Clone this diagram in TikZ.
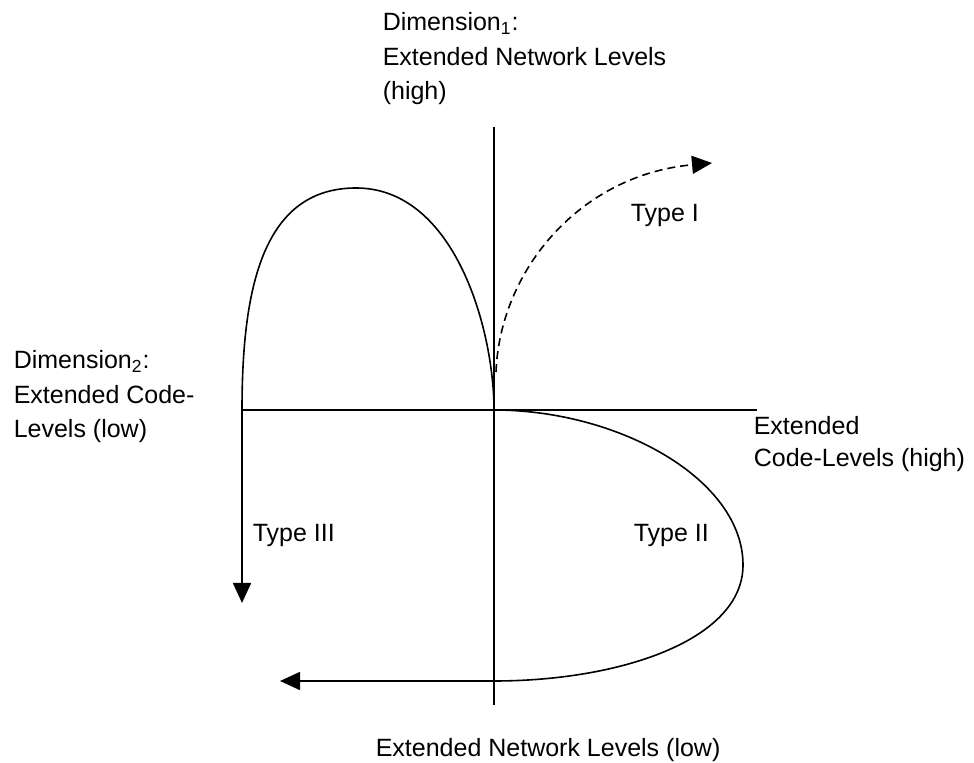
\documentclass[tikz,border=0pt]{standalone}
\usepackage{fontspec}
\setmainfont{Liberation Sans}
\usetikzlibrary{arrows.meta}
\begin{document}
\begin{tikzpicture}[x=0.5pt,y=-0.5pt,line width=0.8pt,
    lbl/.style={anchor=base west,inner sep=0,align=left,font=\fontsize{12.5}{17.25}\selectfont},
    arr/.style={-{Triangle[length=10pt,width=9pt]}},
    axis/.style={line width=0.7pt},
    dashline/.style={dash pattern=on 4pt off 2.5pt}]
  \useasboundingbox (0,0) rectangle (974,763);
  \coordinate (O) at (494,410);
  \coordinate (ntop) at (494,127);
  \coordinate (nbot) at (494,705);
  \coordinate (cleft) at (241,410);
  \coordinate (cright) at (757,410);
  \coordinate (peak) at (356,188);
  \coordinate (lside) at (242,410);
  \coordinate (t3) at (242,603);
  \coordinate (s1) at (496,372);
  \coordinate (t1) at (712,163);
  \coordinate (rside) at (743,565);
  \coordinate (back) at (494,681);
  \coordinate (t2) at (280,681);

  % multi-line labels sit on their last line
  \node[lbl] (dim1) at (382,100) {Dimension\textsubscript{1}:\\Extended Network Levels\\(high)};
  \node[lbl] (dim2) at (13,438) {Dimension\textsubscript{2}:\\Extended Code-\\Levels (low)};
  \node[lbl,font=\fontsize{12.5}{16}\selectfont] (chigh) at (753,467) {Extended\\Code-Levels (high)};
  \node[lbl] (nlow) at (375,756) {Extended Network Levels (low)};
  \node[lbl] (type1) at (630,222) {Type I};
  \node[lbl] (type2) at (633,542) {Type II};
  \node[lbl] (type3) at (252,542) {Type III};

  \draw[axis] (ntop) -- (nbot) (cleft) -- (cright);
  % Type III
  \draw[arr] (O) .. controls (494,330) and (455,188) .. (peak)
        .. controls (262,188) and (242,290) .. (lside) -- (t3);
  % Type I
  \draw[arr,dashline] (s1) .. controls (500,270) and (580,175) .. (t1);
  % Type II
  \draw[arr] (O) .. controls (620,410) and (743,480) .. (rside)
        .. controls (743,640) and (620,681) .. (back) -- (t2);
\end{tikzpicture}
\end{document}
